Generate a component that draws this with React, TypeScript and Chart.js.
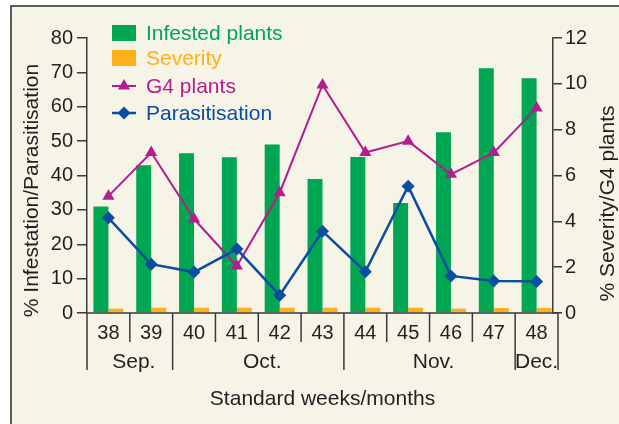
import { useEffect, useRef } from "react";
import { Chart, registerables } from "chart.js";

Chart.register(...registerables);

// ---- data ----
const weeks = ["38", "39", "40", "41", "42", "43", "44", "45", "46", "47", "48"];
const months = ["Sep.", "Oct.", "Nov.", "Dec."];
const monthWeekCounts = [2, 4, 4, 1];
const infestedPlants = [31, 43, 46.5, 45.3, 49, 39, 45.4, 32, 52.6, 71.2, 68.3];
const severity = [0.19, 0.23, 0.23, 0.23, 0.23, 0.23, 0.23, 0.23, 0.19, 0.22, 0.22];
const g4Plants = [5.1, 7.0, 4.1, 2.05, 5.25, 9.95, 7.0, 7.5, 6.05, 7.0, 8.95];
const parasitisation = [27.7, 14.2, 11.9, 18.6, 5.2, 23.8, 12.0, 36.9, 10.8, 9.3, 9.2];
const leftAxisTitle = "% Infestation/Parasitisation";
const rightAxisTitle = "% Severity/G4 plants";
const xAxisTitle = "Standard weeks/months";

// ---- styles ----
const GREEN = "#00a651";
const ORANGE = "#fdb01a";
const MAGENTA = "#b31d8d";
const BLUE = "#0b4da2";
const BG = "#f6f3e7";
const INK = "#231f20";
const AXIS = "#3a3a3a";
const FONT = "'Liberation Sans', Arial, Helvetica, sans-serif";

function drawMarker(ctx: CanvasRenderingContext2D, style: string, x: number, y: number, r: number, color: string) {
  ctx.save();
  ctx.fillStyle = color;
  ctx.beginPath();
  if (style === "triangle") {
    let rad = 0;
    ctx.moveTo(x + Math.sin(rad) * r, y - Math.cos(rad) * r);
    rad += (2 * Math.PI) / 3;
    ctx.lineTo(x + Math.sin(rad) * r, y - Math.cos(rad) * r);
    rad += (2 * Math.PI) / 3;
    ctx.lineTo(x + Math.sin(rad) * r, y - Math.cos(rad) * r);
  } else {
    ctx.moveTo(x, y - r);
    ctx.lineTo(x + r, y);
    ctx.lineTo(x, y + r);
    ctx.lineTo(x - r, y);
  }
  ctx.closePath();
  ctx.fill();
  ctx.restore();
}

const framePlugin = {
  id: "frame",
  beforeDraw(chart: any) {
    const { ctx, width, height } = chart;
    ctx.save();
    ctx.fillStyle = "#ffffff";
    ctx.fillRect(0, 0, width, height);
    ctx.fillStyle = BG;
    ctx.fillRect(11, 6, width - 11, height - 6);
    ctx.strokeStyle = "#2b2b2b";
    ctx.lineWidth = 1.5;
    ctx.beginPath();
    ctx.moveTo(11, height);
    ctx.lineTo(11, 6);
    ctx.lineTo(width, 6);
    ctx.stroke();
    ctx.restore();
  },
};

const shiftRightAxisPlugin = {
  id: "shiftRightAxis",
  afterLayout(chart: any) {
    const s = chart.scales.y1;
    if (s) {
      s.left -= 5;
      s.right -= 5;
    }
  },
};

const categoryAxisPlugin = {
  id: "categoryAxis",
  afterDraw(chart: any) {
    const { ctx } = chart;
    const xs = chart.scales.x;
    const base = chart.chartArea.bottom;
    const n = weeks.length;
    const w = (xs.right - xs.left) / n;
    const boundary = (i: number) => xs.left + i * w;
    const monthBounds = new Set<number>();
    let acc = 0;
    monthBounds.add(0);
    monthWeekCounts.forEach((c) => {
      acc += c;
      monthBounds.add(acc);
    });
    ctx.save();
    ctx.strokeStyle = AXIS;
    ctx.lineWidth = 1.5;
    ctx.beginPath();
    ctx.moveTo(xs.left, base);
    ctx.lineTo(xs.right, base);
    for (let i = 0; i <= n; i++) {
      const x = boundary(i);
      ctx.moveTo(x, base);
      ctx.lineTo(x, monthBounds.has(i) ? base + 57 : base + 29);
    }
    ctx.stroke();

    ctx.fillStyle = INK;
    ctx.textAlign = "center";
    ctx.textBaseline = "middle";
    ctx.font = `20px ${FONT}`;
    weeks.forEach((lbl, i) => {
      ctx.fillText(lbl, xs.getPixelForTick(i), base + 20);
    });
    ctx.font = `21px ${FONT}`;
    let start = 0;
    months.forEach((m, k) => {
      const c = monthWeekCounts[k];
      const x0 = boundary(start);
      const x1 = boundary(start + c);
      const off = c > 1 ? 4 : 0;
      ctx.fillText(m, (x0 + x1) / 2 + off, base + 49);
      start += c;
    });
    ctx.fillText(xAxisTitle, (xs.left + xs.right) / 2 - 0, base + 86);

    // axis titles
    ctx.save();
    ctx.translate(32, 190.5);
    ctx.rotate(-Math.PI / 2);
    ctx.fillText(leftAxisTitle, 0, 0);
    ctx.restore();
    ctx.save();
    ctx.translate(608, 203.5);
    ctx.rotate(-Math.PI / 2);
    ctx.fillText(rightAxisTitle, 0, 0);
    ctx.restore();
    ctx.restore();
  },
};

const legendPlugin = {
  id: "customLegend",
  afterDraw(chart: any) {
    const { ctx } = chart;
    const rows = [33, 58, 86, 113];
    ctx.save();
    ctx.font = `21px ${FONT}`;
    ctx.textAlign = "left";
    ctx.textBaseline = "middle";
    chart.data.datasets.forEach((ds: any, i: number) => {
      const y = rows[i];
      const color = ds.borderColor || ds.backgroundColor;
      if (ds.type === "bar") {
        ctx.fillStyle = ds.backgroundColor;
        ctx.fillRect(112, y - 8, 24, 16);
      } else {
        ctx.strokeStyle = ds.borderColor;
        ctx.lineWidth = ds.borderWidth;
        ctx.beginPath();
        ctx.moveTo(112, y);
        ctx.lineTo(136, y);
        ctx.stroke();
        drawMarker(ctx, ds.pointStyle, 124, y, ds.pointRadius, ds.borderColor);
      }
      ctx.fillStyle = ds.type === "bar" ? ds.backgroundColor : color;
      ctx.fillText(ds.label, 146, y + 1);
    });
    ctx.restore();
  },
};

export default function App() {
  const ref = useRef<HTMLCanvasElement | null>(null);

  useEffect(() => {
    if (!ref.current) return;
    Chart.defaults.font.family = FONT;
    const chart = new Chart(ref.current, {
      data: {
        labels: weeks,
        datasets: [
          {
            type: "bar",
            label: "Infested plants",
            data: infestedPlants,
            backgroundColor: GREEN,
            yAxisID: "y",
            order: 2,
            categoryPercentage: 0.7,
            barPercentage: 1.0,
          },
          {
            type: "bar",
            label: "Severity",
            data: severity,
            backgroundColor: ORANGE,
            yAxisID: "y1",
            order: 3,
            categoryPercentage: 0.7,
            barPercentage: 1.0,
          },
          {
            type: "line",
            label: "G4 plants",
            data: g4Plants,
            borderColor: MAGENTA,
            backgroundColor: MAGENTA,
            borderWidth: 2,
            pointStyle: "triangle",
            pointRadius: 7,
            pointBorderWidth: 0,
            pointBackgroundColor: MAGENTA,
            yAxisID: "y1",
            order: 1,
            tension: 0,
          },
          {
            type: "line",
            label: "Parasitisation",
            data: parasitisation,
            borderColor: BLUE,
            backgroundColor: BLUE,
            borderWidth: 2.5,
            pointStyle: "rectRot",
            pointRadius: 6.5,
            pointBorderWidth: 0,
            pointBackgroundColor: BLUE,
            yAxisID: "y",
            order: 0,
            tension: 0,
          },
        ] as any,
      },
      options: {
        animation: false,
        responsive: false,
        events: [],
        layout: { padding: { left: 0, right: 0, top: 38, bottom: 111 } },
        plugins: {
          legend: { display: false },
          tooltip: { enabled: false },
          title: { display: false },
        },
        scales: {
          x: {
            type: "category",
            display: false,
            offset: true,
          },
          y: {
            type: "linear",
            position: "left",
            min: 0,
            max: 80,
            ticks: { stepSize: 10, color: INK, font: { size: 20, family: FONT }, padding: 4 },
            grid: { drawOnChartArea: false, drawTicks: true, tickLength: 10, color: AXIS, lineWidth: 1.5 },
            border: { display: true, color: AXIS, width: 1.5 },
            afterFit(scale: any) {
              scale.width = 87;
            },
          },
          y1: {
            type: "linear",
            position: "right",
            min: 0,
            max: 12,
            ticks: { stepSize: 2, color: INK, font: { size: 20, family: FONT }, padding: 3 },
            grid: { drawOnChartArea: false, drawTicks: true, tickLength: 9, color: AXIS, lineWidth: 1.5 },
            border: { display: true, color: AXIS, width: 1.5 },
            afterFit(scale: any) {
              scale.width = 619 - 558;
            },
          },
        },
      } as any,
      plugins: [framePlugin, shiftRightAxisPlugin, categoryAxisPlugin, legendPlugin],
    });
    return () => chart.destroy();
  }, []);

  return (
    <div style={{ position: "fixed", left: 0, top: 0, width: 619, height: 424 }}>
      <canvas ref={ref} width={619} height={424} style={{ display: "block" }} />
    </div>
  );
}
